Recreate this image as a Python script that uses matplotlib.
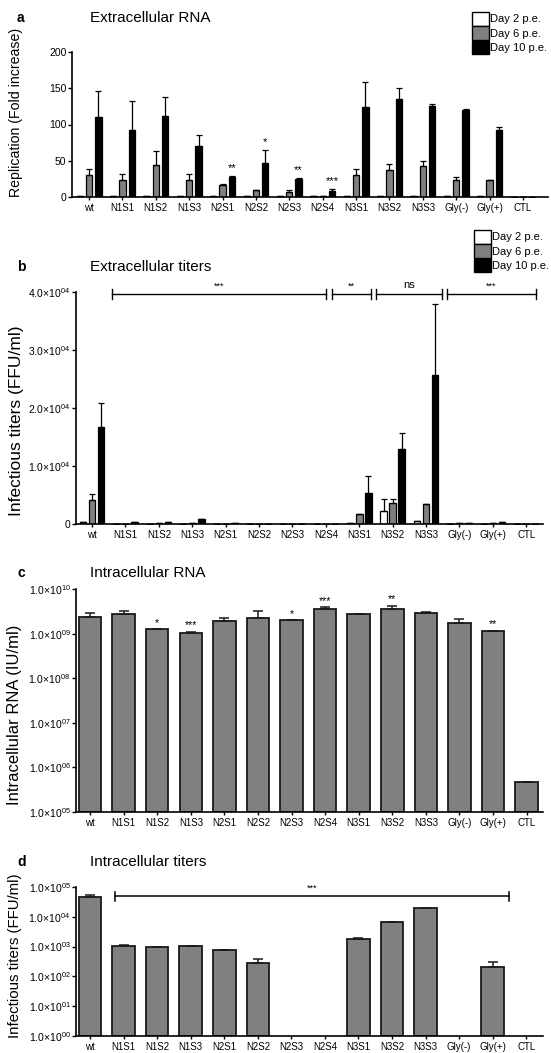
import numpy as np
import matplotlib
matplotlib.use('Agg')
import matplotlib.pyplot as plt
from matplotlib.patches import Patch

plt.rcParams['font.family'] = ['Liberation Sans', 'DejaVu Sans']
plt.rcParams['mathtext.fontset'] = 'custom'
plt.rcParams['mathtext.rm'] = 'Liberation Sans'
plt.rcParams['mathtext.default'] = 'regular'

categories = ['wt', 'N1S1', 'N1S2', 'N1S3', 'N2S1', 'N2S2', 'N2S3', 'N2S4',
              'N3S1', 'N3S2', 'N3S3', 'Gly(-)', 'Gly(+)', 'CTL']
series_names = ['Day 2 p.e.', 'Day 6 p.e.', 'Day 10 p.e.']

# a - extracellular RNA (fold increase)
a_day2 = [1, 1, 1, 1, 1, 1, 1, 1, 1, 1, 1, 1, 2, 0]
a_day6 = [30, 24, 44, 23, 17, 9, 7, 1, 31, 37, 43, 24, 23, 0]
a_day6_err = [8, 8, 19, 9, 1, 1, 2, 0, 8, 9, 7, 4, 0, 0]
a_day10 = [111, 92, 112, 71, 28, 47, 25, 8, 124, 135, 125, 120, 93, 0]
a_day10_err = [35, 41, 26, 14, 1, 18, 1, 3, 34, 15, 3, 1, 3, 0]
a_stars = ['', '', '', '', '**', '*', '**', '***', '', '', '', '', '', '']

# b - extracellular titers (FFU/ml)
b_day2 = [300, 0, 0, 0, 0, 0, 0, 0, 100, 2200, 500, 0, 80, 0]
b_day2_err = [0, 0, 0, 0, 0, 0, 0, 0, 0, 2100, 0, 0, 0, 0]
b_day6 = [4100, 0, 100, 200, 0, 0, 0, 0, 1700, 3600, 3400, 100, 150, 0]
b_day6_err = [1100, 0, 0, 0, 0, 0, 0, 0, 0, 700, 0, 0, 0, 0]
b_day10 = [16700, 300, 300, 800, 150, 50, 0, 0, 5300, 12900, 25700, 200, 300, 0]
b_day10_err = [4200, 0, 0, 0, 0, 0, 0, 0, 3000, 2800, 12200, 0, 0, 0]
b_brackets = [(0.6, 7.01, '***'), (7.19, 8.36, '**'), (8.51, 10.48, 'ns'), (10.63, 13.28, '***')]

# c - intracellular RNA (IU/ml)
c_vals = [2.36e9, 2.76e9, 1.26e9, 1.03e9, 1.9e9, 2.24e9, 2.0e9, 3.56e9,
          2.7e9, 3.5e9, 2.9e9, 1.7e9, 1.13e9, 4.7e5]
c_err = [0.55e9, 0.45e9, 0, 0.08e9, 0.3e9, 0.95e9, 0, 0.35e9,
         0, 0.7e9, 0.1e9, 0.4e9, 0.02e9, 0]
c_stars = ['', '', '*', '***', '', '', '*', '***', '', '**', '', '', '**', '']

# d - intracellular titers (FFU/ml), 0 = not detected
d_vals = [4.6e4, 1.05e3, 1.0e3, 1.05e3, 7.5e2, 2.8e2, 0, 0,
          1.8e3, 6.7e3, 2.0e4, 0, 2.1e2, 0]
d_err = [8e3, 40, 0, 0, 20, 110, 0, 0, 80, 0, 0, 0, 90, 0]

W, H = 551, 1053
fig = plt.figure(figsize=(W / 100, H / 100), dpi=100)


def px_axes(left, right, top, bottom):
    return fig.add_axes([left / W, 1 - bottom / H, (right - left) / W, (bottom - top) / H])


def style_axes(ax, xlim):
    for s in ['top', 'right']:
        ax.spines[s].set_visible(False)
    for s in ['left', 'bottom']:
        ax.spines[s].set_linewidth(1.2)
    ax.set_xlim(*xlim)
    ax.set_xticks(range(len(categories)))
    ax.set_xticklabels(categories, fontsize=7)
    ax.tick_params(axis='x', length=2.5, width=1, pad=2)
    ax.tick_params(axis='y', length=3, width=1, pad=1, labelsize=7.5)


def sci_label(v):
    e = int(round(np.log10(v)))
    return '1.0×10$^{%02d}$' % e


def grouped_bars(ax, d2, d6, d6e, d10, d10e, d2e=None, w=0.19, off=0.28):
    x = np.arange(len(categories))
    ek = dict(elinewidth=0.9, capsize=2, capthick=0.9, ecolor='black')
    z = np.zeros(len(x))
    ax.bar(x - off, d2, w, color='white', edgecolor='black', linewidth=0.9,
           yerr=[z, d2e if d2e is not None else z], error_kw=ek)
    ax.bar(x, d6, w, color='#808080', edgecolor='black', linewidth=0.9,
           yerr=[z, d6e], error_kw=ek)
    ax.bar(x + off, d10, w, color='black', edgecolor='black', linewidth=0.9,
           yerr=[z, d10e], error_kw=ek)


def single_bars(ax, vals, errs, bottom):
    x = np.arange(len(categories))
    vals = np.array(vals, dtype=float)
    errs = np.array(errs, dtype=float)
    m = vals > 0
    ax.bar(x[m], vals[m] - bottom, 0.67, bottom=bottom, color='#808080',
           edgecolor='#1a1a1a', linewidth=1.3)
    ax.errorbar(x[m], vals[m], yerr=[np.zeros(m.sum()), errs[m]], fmt='none',
                ecolor='#1a1a1a', elinewidth=1.1, capsize=3.5, capthick=1.1)


def add_legend(x_px, y_px):
    handles = [Patch(facecolor='white', edgecolor='black'),
               Patch(facecolor='#808080', edgecolor='black'),
               Patch(facecolor='black', edgecolor='black')]
    fig.legend(handles, series_names, loc='upper left', bbox_to_anchor=(x_px / W, 1 - y_px / H),
               frameon=False, fontsize=8, handlelength=1.5, handleheight=1.5,
               handletextpad=0.15, labelspacing=0.08, borderpad=0, borderaxespad=0)


# ---- a ----
ax = px_axes(72, 548, 52, 197)
grouped_bars(ax, a_day2, a_day6, a_day6_err, a_day10, a_day10_err)
style_axes(ax, (-0.51, 13.75))
ax.set_ylim(0, 200)
ax.set_yticks([0, 50, 100, 150, 200])
for i, s in enumerate(a_stars):
    if s:
        ax.text(i + 0.28, a_day10[i] + a_day10_err[i] + 4, s, ha='center', va='bottom', fontsize=8)
ax.set_ylabel('Replication (Fold increase)', fontsize=10.2)
ax.yaxis.set_label_coords(-0.103, 0.585)
add_legend(472, 12)
fig.text(17 / W, 1 - 18 / H, 'a', fontsize=10, fontweight='bold', va='center')
fig.text(90 / W, 1 - 18 / H, 'Extracellular RNA', fontsize=11, va='center')

# ---- b ----
ax = px_axes(76, 543, 292, 524)
grouped_bars(ax, b_day2, b_day6, b_day6_err, b_day10, b_day10_err, d2e=b_day2_err, w=0.2, off=0.27)
style_axes(ax, (-0.48, 13.5))
ax.set_ylim(0, 40000)
ax.set_yticks([0, 10000, 20000, 30000, 40000])
ax.set_yticklabels(['0'] + ['%d.0×10$^{04}$' % k for k in range(1, 5)])
for x1, x2, s in b_brackets:
    ax.plot([x1, x2], [39700, 39700], color='black', lw=1, clip_on=False)
    for xx in (x1, x2):
        ax.plot([xx, xx], [38800, 40600], color='black', lw=1, clip_on=False)
    ax.text((x1 + x2) / 2, 40300, s, ha='center', va='bottom',
            fontsize=6.5 if '*' in s else 8)
ax.set_ylabel('Infectious titers (FFU/ml)', fontsize=12.5)
ax.yaxis.set_label_coords(-0.111, 0.444)
add_legend(474, 230)
fig.text(17 / W, 1 - 267 / H, 'b', fontsize=10, fontweight='bold', va='center')
fig.text(90 / W, 1 - 267 / H, 'Extracellular titers', fontsize=11, va='center')

# ---- c ----
ax = px_axes(76, 543, 589, 812)
ax.set_yscale('log')
single_bars(ax, c_vals, c_err, 1e5)
style_axes(ax, (-0.42, 13.49))
ax.set_ylim(1e5, 1e10)
ticks = [10.0 ** k for k in range(5, 11)]
ax.set_yticks(ticks)
ax.set_yticklabels([sci_label(t) for t in ticks])
ax.minorticks_off()
for i, s in enumerate(c_stars):
    if s:
        ax.text(i, (c_vals[i] + c_err[i]) * 1.08, s, ha='center', va='bottom', fontsize=7.5)
ax.set_ylabel('Intracellular RNA (IU/ml)', fontsize=12)
ax.yaxis.set_label_coords(-0.116, 0.435)
fig.text(17 / W, 1 - 573 / H, 'c', fontsize=10, fontweight='bold', va='center')
fig.text(90 / W, 1 - 573 / H, 'Intracellular RNA', fontsize=11, va='center')

# ---- d ----
ax = px_axes(76, 543, 887, 1036)
ax.set_yscale('log')
single_bars(ax, d_vals, d_err, 1.0)
style_axes(ax, (-0.42, 13.5))
ax.set_ylim(1, 1e5)
ticks = [10.0 ** k for k in range(0, 6)]
ax.set_yticks(ticks)
ax.set_yticklabels([sci_label(t) for t in ticks])
ax.minorticks_off()
ax.plot([0.75, 12.48], [5e4, 5e4], color='black', lw=1.1, clip_on=False)
for xx in (0.75, 12.48):
    ax.plot([xx, xx], [3.5e4, 7e4], color='black', lw=1.1, clip_on=False)
ax.text(6.63, 6.5e4, '***', ha='center', va='bottom', fontsize=6.5)
ax.set_ylabel('Infectious titers (FFU/ml)', fontsize=10.8)
ax.yaxis.set_label_coords(-0.116, 0.54)
fig.text(17 / W, 1 - 862 / H, 'd', fontsize=10, fontweight='bold', va='center')
fig.text(90 / W, 1 - 862 / H, 'Intracellular titers', fontsize=11, va='center')

plt.savefig('out.png', dpi=100)
plt.close()
